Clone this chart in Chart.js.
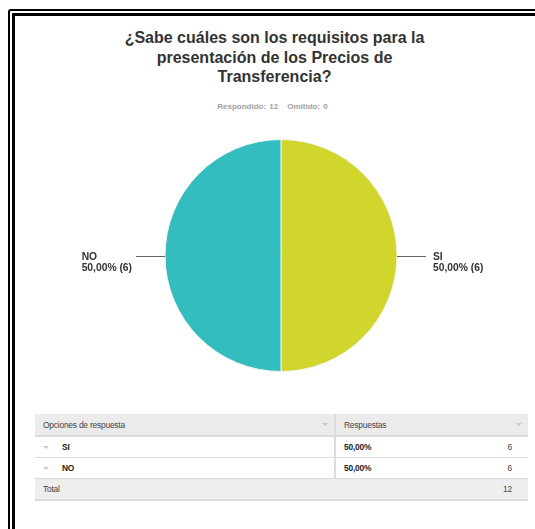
<!DOCTYPE html>
<html lang="es">
<head>
<meta charset="utf-8">
<title>Precios de Transferencia</title>
<script src="https://cdn.jsdelivr.net/npm/chart.js@4/dist/chart.umd.min.js"></script>
<style>
  html, body { margin: 0; padding: 0; background: #fff; overflow: hidden; }
  body { width: 535px; height: 529px; position: relative; font-family: "Liberation Sans", Arial, sans-serif; }
  .frame-outer { position: absolute; left: 8px; top: 9px; width: 600px; height: 600px; border: 2px solid #000; border-right: none; border-bottom: none; border-top-left-radius: 3px; box-sizing: border-box; }
  .frame-inner { position: absolute; left: 12px; top: 13px; width: 600px; height: 600px; border: 3px solid #000; border-right: none; border-bottom: none; box-sizing: border-box; }
  h1 { position: absolute; left: 0; top: 28px; width: 549px; margin: 0; text-align: center; font-size: 16px; line-height: 19.5px; font-weight: bold; color: #333; }
  .meta { position: absolute; left: 0; top: 102px; width: 545px; text-align: center; font-size: 8px; font-weight: bold; color: #a0a0a0; word-spacing: 1px; }
  .meta span + span { margin-left: 9px; }
  #pie { position: absolute; left: 0; top: 120px; }
  table { position: absolute; left: 35px; top: 414px; width: 493px; table-layout: fixed; border-collapse: collapse; font-size: 8.4px; color: #444; letter-spacing: -0.2px; }
  td { height: 20px; padding: 0; border-bottom: 1px solid #dcdcdc; }
  tr.head td { background: #ebebeb; height: 21px; border-bottom: 2px solid #dcdcdc; }
  tr.total td { background: #eeeeee; height: 20px; border-bottom: 2px solid #dcdcdc; }
  td.opt { border-right: 2px solid #dcdcdc; position: relative; }
  td.label { padding-left: 8px; }
  td.bold { font-weight: bold; color: #222; }
  .pct { padding-left: 8px; }
  .cnt { text-align: right; padding-right: 16px; font-weight: normal; color: #444; }
  .caret { display: inline-block; width: 0; height: 0; border-left: 3px solid transparent; border-right: 3px solid transparent; border-top: 3px solid #c8c8c8; vertical-align: middle; }
  .caret.head { position: absolute; right: 6px; top: 9px; }
  .caret.row { margin-left: 8px; margin-right: 13px; }
</style>
</head>
<body>
<div class="frame-outer"></div>
<div class="frame-inner"></div>
<h1>¿Sabe cuáles son los requisitos para la<br>presentación de los Precios de<br>Transferencia?</h1>
<div class="meta"></div>
<canvas id="pie" width="535" height="280"></canvas>
<table id="answers"><colgroup><col style="width:300px"><col></colgroup><tbody></tbody></table>
<script>
const options = ['SI', 'NO'];
const counts = [6, 6];
const colors = ['#d0d62b', '#34bdbe'];
const skipped = 0;

const total = counts.reduce((a, b) => a + b, 0);
const pct = (n) => (n / total * 100).toFixed(2).replace('.', ',') + '%';

// leader line + two-line label beside each slice
const sideLabels = {
  id: 'sideLabels',
  afterDatasetsDraw(chart) {
    const ctx = chart.ctx;
    const meta = chart.getDatasetMeta(0);
    ctx.save();
    meta.data.forEach((arc, i) => {
      const mid = (arc.startAngle + arc.endAngle) / 2;
      const ex = arc.x + Math.cos(mid) * arc.outerRadius;
      const ey = arc.y + Math.sin(mid) * arc.outerRadius;
      const right = Math.cos(mid) >= 0;
      const lx = right ? ex + 29 : ex - 29;
      ctx.strokeStyle = '#666';
      ctx.lineWidth = 1;
      ctx.beginPath();
      ctx.moveTo(ex, Math.round(ey) + 0.5);
      ctx.lineTo(lx, Math.round(ey) + 0.5);
      ctx.stroke();
      const lines = [chart.data.labels[i], `${pct(counts[i])} (${counts[i]})`];
      ctx.font = 'bold 10.3px "Liberation Sans", Arial, sans-serif';
      ctx.fillStyle = '#333';
      ctx.textAlign = 'left';
      ctx.textBaseline = 'alphabetic';
      const w = Math.max(...lines.map((t) => ctx.measureText(t).width));
      const tx = right ? lx + 7 : lx - 4 - w;
      ctx.fillText(lines[0], tx, ey + 4);
      ctx.fillText(lines[1], tx, ey + 15.5);
    });
    ctx.restore();
  }
};

new Chart(document.getElementById('pie'), {
  type: 'pie',
  data: {
    labels: options,
    datasets: [{ data: counts, backgroundColor: colors, borderColor: '#f4f4f4', borderWidth: 1 }]
  },
  options: {
    responsive: false,
    animation: false,
    layout: { padding: { left: 164, right: 137, top: 19, bottom: 28 } },
    plugins: { legend: { display: false }, tooltip: { enabled: false } }
  },
  plugins: [sideLabels]
});

// response table
const body = document.querySelector('#answers tbody');
let html = '<tr class="head"><td class="opt label">Opciones de respuesta<span class="caret head"></span></td>' +
  '<td class="pct" style="position:relative">Respuestas<span class="caret head"></span></td></tr>';
options.forEach((opt, i) => {
  html += `<tr><td class="opt bold"><span class="caret row"></span>${opt}</td>` +
    `<td class="bold"><span class="pct">${pct(counts[i])}</span><span style="float:right" class="cnt">${counts[i]}</span></td></tr>`;
});
html += `<tr class="total"><td class="label" colspan="2">Total<span style="float:right" class="cnt">${total}</span></td></tr>`;
body.innerHTML = html;
document.querySelector('.meta').innerHTML = `<span>Respondido: ${total}</span><span>Omitido: ${skipped}</span>`;
</script>
</body>
</html>
